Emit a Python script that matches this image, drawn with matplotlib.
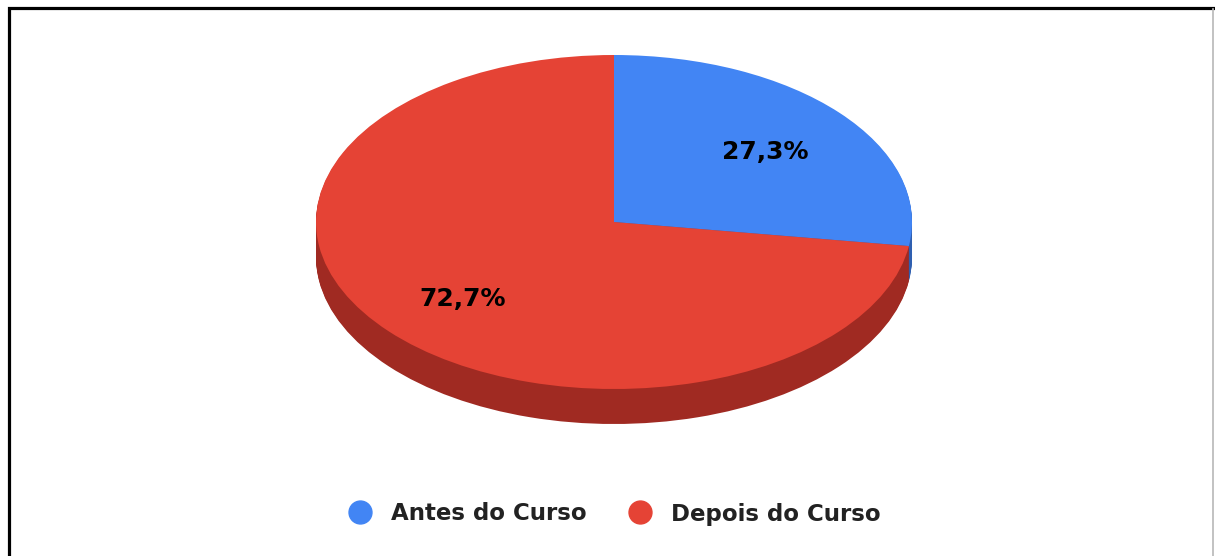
import matplotlib
matplotlib.use("Agg")
import matplotlib.pyplot as plt
from matplotlib.lines import Line2D

# data
labels = ["Antes do Curso", "Depois do Curso"]
values = [27.3, 72.7]
top_colors = ["#4285F4", "#E54335"]
side_colors = ["#2F5FB0", "#A02A22"]

W, H = 1215, 556
fig = plt.figure(figsize=(W / 100, H / 100), dpi=100)

# frame around the chart (left/top black, right grey)
fy = (H - 7.5) / H
fig.add_artist(Line2D([8.5 / W, 8.5 / W, 1213 / W], [0, fy, fy],
                      transform=fig.transFigure, color="black", lw=2.3,
                      solid_joinstyle="miter"))
fig.add_artist(Line2D([1213 / W, 1213 / W], [0, fy - 1.5 / H],
                      transform=fig.transFigure, color="#b8b8b8", lw=1.2))

# pie axes: unit circle -> ellipse 298 x 167 px, centre at (614, 222 from top)
rx, ry = 298, 167
cx, cy = 614, H - 222
xl, yl_lo, yl_hi = 1.2, -1.5, 1.2
ax = fig.add_axes([(cx - rx * xl) / W, (cy + ry * yl_lo) / H,
                   2 * rx * xl / W, ry * (yl_hi - yl_lo) / H])

# 3d side: stacked darker layers
depth = 35 / ry
nlayers = 36
for i in range(nlayers, 0, -1):
    off = depth * i / nlayers
    ax.pie(values, colors=side_colors, startangle=90, counterclock=False,
           center=(0, -off), wedgeprops=dict(linewidth=0, antialiased=True))

wedges, texts, autotexts = ax.pie(
    values, colors=top_colors, startangle=90, counterclock=False,
    autopct=lambda p: f"{p:.1f}%".replace(".", ","), pctdistance=0.67,
    wedgeprops=dict(linewidth=0, antialiased=True),
    textprops=dict(fontsize=18, fontweight="bold", color="black",
                   family="DejaVu Sans"))
# nudge labels a few px down like the original
for t in autotexts:
    x, y = t.get_position()
    t.set_position((x, y - 0.022))

ax.set_aspect("auto")
ax.set_xlim(-xl, xl)
ax.set_ylim(yl_lo, yl_hi)
ax.axis("off")

# legend
handles = [Line2D([], [], marker="o", linestyle="none", markersize=16.5,
                  markerfacecolor=c, markeredgecolor=c) for c in top_colors]
leg = fig.legend(handles, labels, loc="center", bbox_to_anchor=(614.5 / W, (H - 514) / H),
                 ncol=2, frameon=False, handlelength=1.0, handletextpad=0.85,
                 columnspacing=1.8,
                 prop=dict(family="DejaVu Sans", weight="bold", size=16.5))
for t in leg.get_texts():
    t.set_color("#222222")

fig.savefig("out.png", dpi=100, facecolor="white")
